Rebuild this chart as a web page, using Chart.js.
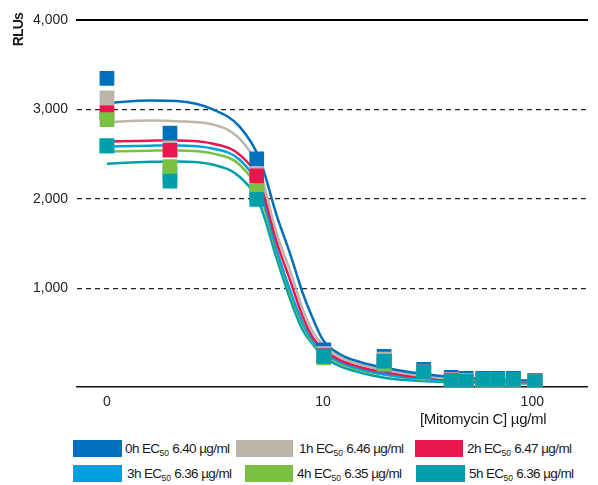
<!DOCTYPE html>
<html>
<head>
<meta charset="utf-8">
<title>Mitomycin C dose response</title>
<script src="https://cdn.jsdelivr.net/npm/chart.js@4.4.1/dist/chart.umd.min.js"></script>
<style>
    html, body { margin: 0; padding: 0; background: #fff; }
    body {
        width: 598px; height: 485px; position: relative; overflow: hidden;
        font-family: "Liberation Sans", Arial, sans-serif; color: #1a1a1a;
    }
    #wrap { position: absolute; left: 0; top: 0; width: 598px; height: 430px; }
    .xtitle {
        position: absolute; left: 420px; top: 410px;
        font-size: 15px; letter-spacing: -0.3px; white-space: nowrap;
    }
    .lg-box { position: absolute; height: 17px; }
    .lg-text {
        position: absolute; font-size: 13.5px; letter-spacing: -0.6px;
        white-space: nowrap; line-height: 17px;
    }
    .lg-text sub { font-size: 8.5px; vertical-align: -3px; line-height: 0; letter-spacing: 0; }
</style>
</head>
<body>
<div id="wrap"><canvas id="chart"></canvas></div>
<div class="xtitle">[Mitomycin C] µg/ml</div>
<div id="legend"></div>
<script>
(function () {
    'use strict';

    var seriesNames = ['0h', '1h', '2h', '3h', '4h', '5h'];
    var ec50Values = ['6.40', '6.46', '6.47', '6.36', '6.35', '6.36'];
    var seriesColors = ['#0070ba', '#bdb5ac', '#e8174e', '#00a1de', '#7ac143', '#009fab'];
    var yTitle = 'RLUs';

    // measured doses (the "0" dose sits at 0.93 on the log axis)
    var doseLevels = [0.93, 1.86, 4.83, 10.1, 19.6, 30.3, 41, 48.3, 58.1, 68.4, 81.3, 103];
    var rlu0h = [3347, 2737, 2448, 314, 243, 98, 8, -3, -3, -3, -3, -25];
    var rlu1h = [3131, 2571, 2283, 273, 213, 75, -14, -25, -20, -20, -20, -30];
    var rlu2h = [2966, 2545, 2258, 250, 180, 70, -22, -33, -25, -25, -25, -32];
    var rlu3h = [2593, 2280, 2050, 245, 143, 62, -30, -40, -36, -28, -36, -35];
    var rlu4h = [2888, 2362, 2093, 225, 157, 60, -36, -52, -20, -33, -20, -36];
    var rlu5h = [2593, 2200, 1995, 241, 188, 68, -25, -36, -14, -14, -14, -40];

    // fitted curves
    var fitDose = [0.93, 1.5, 2, 3, 4, 5, 6, 7, 8, 9, 10, 12, 15, 20, 30, 45, 65, 100];
    var fit0h = [3072, 3100, 3094, 2999, 2809, 2439, 1824, 1377, 952, 650, 426, 269, 180, 113, 45, 6, -16, -27];
    var fit1h = [2861, 2876, 2870, 2831, 2674, 2305, 1623, 1187, 773, 504, 370, 236, 152, 90, 23, -11, -22, -33];
    var fit2h = [2644, 2652, 2655, 2618, 2495, 2182, 1528, 1080, 689, 443, 325, 202, 124, 62, 6, -22, -33, -38];
    var fit3h = [2588, 2596, 2599, 2562, 2439, 2104, 1438, 968, 616, 403, 292, 180, 101, 40, -11, -33, -44, -50];
    var fit4h = [2532, 2540, 2543, 2507, 2383, 2048, 1410, 940, 594, 387, 280, 168, 90, 34, -16, -38, -50, -55];
    var fit5h = [2395, 2417, 2420, 2383, 2249, 1936, 1343, 873, 538, 370, 247, 135, 62, 1, -33, -50, -55, -61];

    var xTickValues = [0.93, 10, 100];
    var xTickLabels = ['0', '10', '100'];
    var yTickValues = [1000, 2000, 3000, 4000];

    var rluData = [rlu0h, rlu1h, rlu2h, rlu3h, rlu4h, rlu5h];
    var fitData = [fit0h, fit1h, fit2h, fit3h, fit4h, fit5h];

    // legend layout: [boxLeft, boxTop, boxWidth, textLeft]
    var legendPos = [
        [73, 440, 49, 125], [236, 440, 57, 299], [415, 440, 48, 467],
        [73, 465, 49, 127], [245, 465, 48, 297], [416, 465, 49, 469]
    ];

    function toPoints(xs, ys) {
        return xs.map(function (x, i) {
            return { x: x, y: ys[i] };
        });
    }

    var datasets = [];
    seriesNames.forEach(function (name, i) {
        datasets.push({
            type: 'scatter',
            label: name + ' data',
            data: toPoints(doseLevels, rluData[i]),
            pointStyle: 'rect',
            pointRadius: 10.4,
            pointHoverRadius: 10.4,
            backgroundColor: seriesColors[i],
            borderWidth: 0,
            order: 5 - i,
        });
        datasets.push({
            type: 'line',
            label: name + ' fit',
            data: toPoints(fitDose, fitData[i]),
            borderColor: seriesColors[i],
            borderWidth: 2.5,
            pointRadius: 0,
            fill: false,
            cubicInterpolationMode: 'monotone',
            order: 10 + i,
        });
    });

    // vertical axis title, reading upwards, top end level with the 4,000 label
    var yTitlePlugin = {
        id: 'yTitle',
        afterDraw: function (chart) {
            var ctx = chart.ctx;
            ctx.save();
            ctx.translate(23, 13);
            ctx.rotate(-Math.PI / 2);
            ctx.font = 'bold 14px "Liberation Sans", Arial, sans-serif';
            if ('letterSpacing' in ctx) {
                ctx.letterSpacing = '-0.8px';
            }
            ctx.fillStyle = '#1a1a1a';
            ctx.textAlign = 'right';
            ctx.textBaseline = 'alphabetic';
            ctx.fillText(yTitle, 0, 0);
            ctx.restore();
        },
    };

    Chart.defaults.font.family = '"Liberation Sans", Arial, sans-serif';

    new Chart(document.getElementById('chart'), {
        data: { datasets: datasets },
        plugins: [yTitlePlugin],
        options: {
            responsive: true,
            maintainAspectRatio: false,
            animation: false,
            layout: { padding: { top: 20, right: 4, left: 0, bottom: 0 } },
            plugins: { legend: { display: false }, tooltip: { enabled: false } },
            scales: {
                x: {
                    type: 'logarithmic',
                    min: 0.669,
                    max: 183.7,
                    position: 'bottom',
                    grid: { display: false, drawTicks: false },
                    border: { display: true, color: '#111', width: 1.5 },
                    afterBuildTicks: function (scale) {
                        scale.ticks = xTickValues.map(function (v) { return { value: v }; });
                    },
                    afterFit: function (scale) { scale.height = 43; },
                    ticks: {
                        padding: 7,
                        autoSkip: false,
                        maxRotation: 0,
                        color: '#222',
                        font: { size: 14 },
                        callback: function (v, i) { return xTickLabels[i]; },
                    },
                },
                xTop: {
                    type: 'linear',
                    axis: 'x',
                    position: 'top',
                    grid: { display: false, drawTicks: false },
                    ticks: { display: false },
                    border: { display: true, color: '#000', width: 2 },
                    afterFit: function (scale) { scale.height = 0; },
                },
                y: {
                    min: -100,
                    max: 4000,
                    afterBuildTicks: function (scale) {
                        scale.ticks = yTickValues.map(function (v) { return { value: v }; });
                    },
                    afterFit: function (scale) { scale.width = 77; },
                    grid: {
                        drawTicks: false,
                        lineWidth: 1.2,
                        color: function (ctx) {
                            return ctx.tick && ctx.tick.value === 4000 ? 'rgba(0,0,0,0)' : '#222';
                        },
                    },
                    border: { display: false, dash: [5, 4] },
                    ticks: {
                        padding: 9,
                        color: '#222',
                        font: { size: 14 },
                        callback: function (v) { return v.toLocaleString('en-US'); },
                    },
                },
            },
        },
    });

    var legend = document.getElementById('legend');
    seriesNames.forEach(function (name, i) {
        var p = legendPos[i];
        var box = document.createElement('div');
        box.className = 'lg-box';
        box.style.left = p[0] + 'px';
        box.style.top = p[1] + 'px';
        box.style.width = p[2] + 'px';
        box.style.background = seriesColors[i];
        legend.appendChild(box);

        var txt = document.createElement('div');
        txt.className = 'lg-text';
        txt.style.left = p[3] + 'px';
        txt.style.top = p[1] + 'px';
        txt.innerHTML = name + ' EC<sub>50</sub> ' + ec50Values[i] + ' µg/ml';
        legend.appendChild(txt);
    });
})();
</script>
</body>
</html>
